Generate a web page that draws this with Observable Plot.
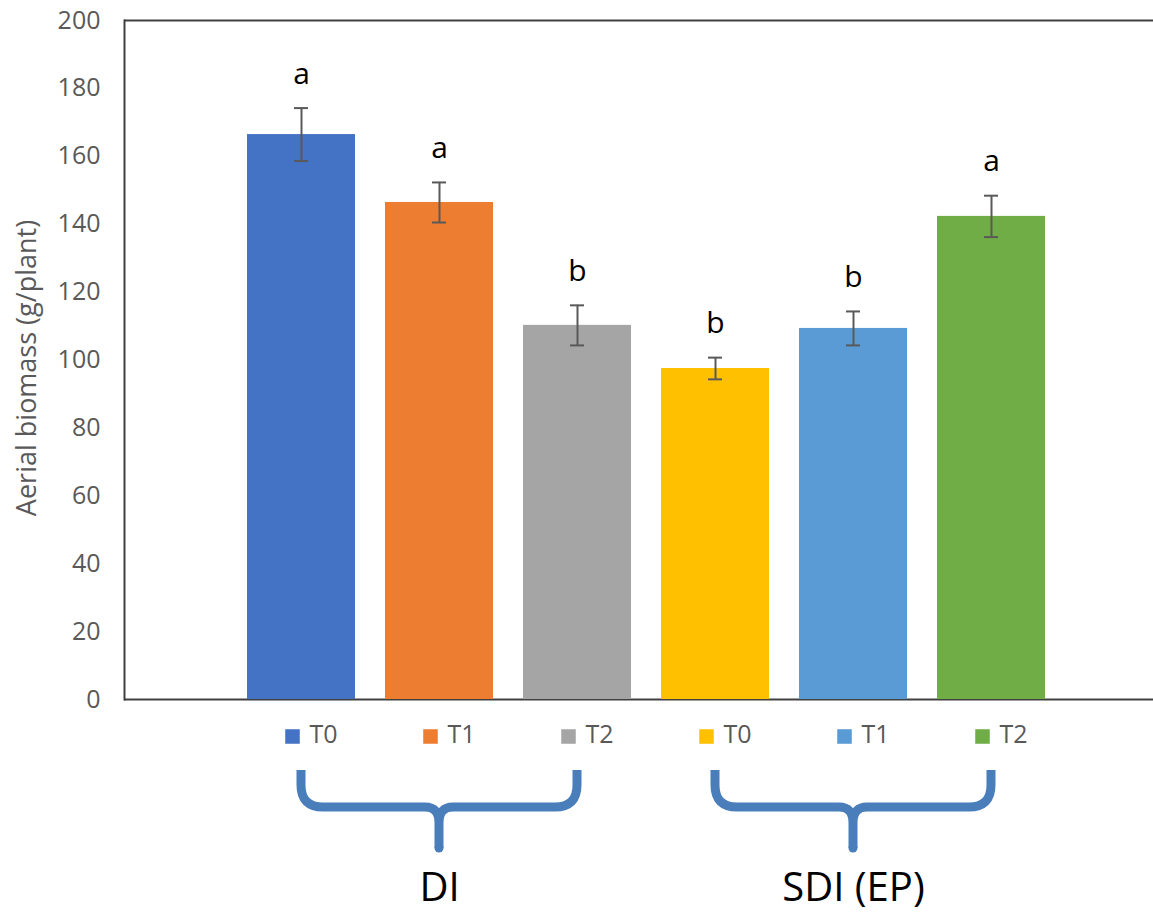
<!DOCTYPE html>
<html>
<head>
<meta charset="utf-8">
<script src="https://cdn.jsdelivr.net/npm/d3@7"></script>
<script src="https://cdn.jsdelivr.net/npm/@observablehq/plot@0.6"></script>
<style>
  html, body { margin: 0; padding: 0; background: #fff; }
  #chart { width: 1153px; height: 914px; }
</style>
</head>
<body>
<div id="chart"></div>
<script>
// Aerial biomass per irrigation system (DI, SDI (EP)) and treatment (T0–T2)
const systems = ["DI", "DI", "DI", "SDI (EP)", "SDI (EP)", "SDI (EP)"];
const treatments = ["T0", "T1", "T2", "T0", "T1", "T2"];
const biomass = [166.4, 146.4, 110.2, 97.5, 109.3, 142.3];
const errors = [7.8, 5.9, 5.9, 3.2, 5.0, 6.1];
const letters = ["a", "a", "b", "b", "b", "a"];
const barColors = ["#4472C4", "#ED7D31", "#A5A5A5", "#FFC000", "#5B9BD5", "#70AD47"];
const yTicks = [0, 20, 40, 60, 80, 100, 120, 140, 160, 180, 200];
const yLabel = "Aerial biomass (g/plant)";

const rows = treatments.map((t, i) => ({
  key: `${systems[i]} ${t}`,
  system: systems[i],
  treatment: t,
  value: biomass[i],
  lo: biomass[i] - errors[i],
  hi: biomass[i] + errors[i],
  letter: letters[i],
  color: barColors[i]
}));
const keys = rows.map(d => d.key);

// one entry per irrigation system: first, middle and last bar of the group
const groups = Array.from(d3.group(rows, d => d.system), ([name, rs]) => ({
  name,
  first: rs[0].key,
  mid: rs[Math.floor(rs.length / 2)].key,
  last: rs[rs.length - 1].key
}));

const axisColor = "#595959";
const frameColor = "#404040";
const braceColor = "#4A7EBB";

// curly braces under each group of bars, placed with the x scale
function braces(index, scales) {
  const x = scales.x;
  const bw = x.bandwidth ? x.bandwidth() : 0;
  const cx = k => x(k) + bw / 2;
  const top = 770, mid = 807, tip = 848;
  const g = d3.create("svg:g")
    .attr("fill", "none")
    .attr("stroke", braceColor)
    .attr("stroke-width", 9)
    .attr("stroke-linejoin", "round");
  for (const grp of groups) {
    const xl = cx(grp.first), xm = cx(grp.mid), xr = cx(grp.last);
    const p = d3.path();
    p.moveTo(xl, top);
    p.lineTo(xl, mid - 22);
    p.quadraticCurveTo(xl, mid, xl + 22, mid);
    p.lineTo(xm - 14, mid);
    p.quadraticCurveTo(xm, mid, xm, mid + 16);
    p.moveTo(xr, top);
    p.lineTo(xr, mid - 22);
    p.quadraticCurveTo(xr, mid, xr - 22, mid);
    p.lineTo(xm + 14, mid);
    p.quadraticCurveTo(xm, mid, xm, mid + 16);
    p.lineTo(xm, tip);
    g.append("path").attr("d", p.toString());
    g.append("circle").attr("cx", xm).attr("cy", tip).attr("r", 4.5)
      .attr("fill", braceColor).attr("stroke", "none");
  }
  return g.node();
}

const chart = Plot.plot({
  width: 1153,
  height: 914,
  marginTop: 20,
  marginBottom: 215,
  marginLeft: 124,
  marginRight: 0,
  style: { fontFamily: "'Open Sans', sans-serif", background: "#fff", overflow: "visible" },
  x: { domain: keys, paddingInner: 0.216, paddingOuter: 0.81, align: 0.533, axis: null },
  y: { domain: [0, 200], axis: null },
  marks: [
    Plot.axisY(yTicks, {
      tickSize: 0, tickPadding: 24, fontSize: 25, fill: axisColor, label: null
    }),
    Plot.ruleY([0, 200], { stroke: frameColor, strokeWidth: 2 }),
    Plot.frame({ anchor: "left", stroke: frameColor, strokeWidth: 2 }),
    Plot.barY(rows, { x: "key", y: "value", fill: "color" }),
    Plot.ruleX(rows, { x: "key", y1: "lo", y2: "hi", stroke: axisColor, strokeWidth: 2 }),
    Plot.tickY(rows, { x: "key", y: "lo", stroke: axisColor, strokeWidth: 2, insetLeft: 47, insetRight: 47 }),
    Plot.tickY(rows, { x: "key", y: "hi", stroke: axisColor, strokeWidth: 2, insetLeft: 47, insetRight: 47 }),
    Plot.text(rows, { x: "key", y: "hi", text: "letter", dy: -34, fontSize: 30, fill: "#000" }),
    // legend entries under each bar
    Plot.dot(rows, { x: "key", frameAnchor: "bottom", dy: 37, dx: -9, symbol: "square", r: 8.2, fill: "color" }),
    Plot.text(rows, { x: "key", frameAnchor: "bottom", dy: 43, dx: 8, text: "treatment", textAnchor: "start", fontSize: 25, fill: axisColor }),
    braces,
    Plot.text(groups, { x: "mid", frameAnchor: "bottom", dy: 201, text: "name", fontSize: 40, fill: "#000" }),
    Plot.text([yLabel], { frameAnchor: "left", textAnchor: "middle", dx: -97, dy: 8, rotate: -90, text: d => d, fontSize: 27, fill: axisColor })
  ]
});

document.getElementById("chart").appendChild(chart);
</script>
</body>
</html>
